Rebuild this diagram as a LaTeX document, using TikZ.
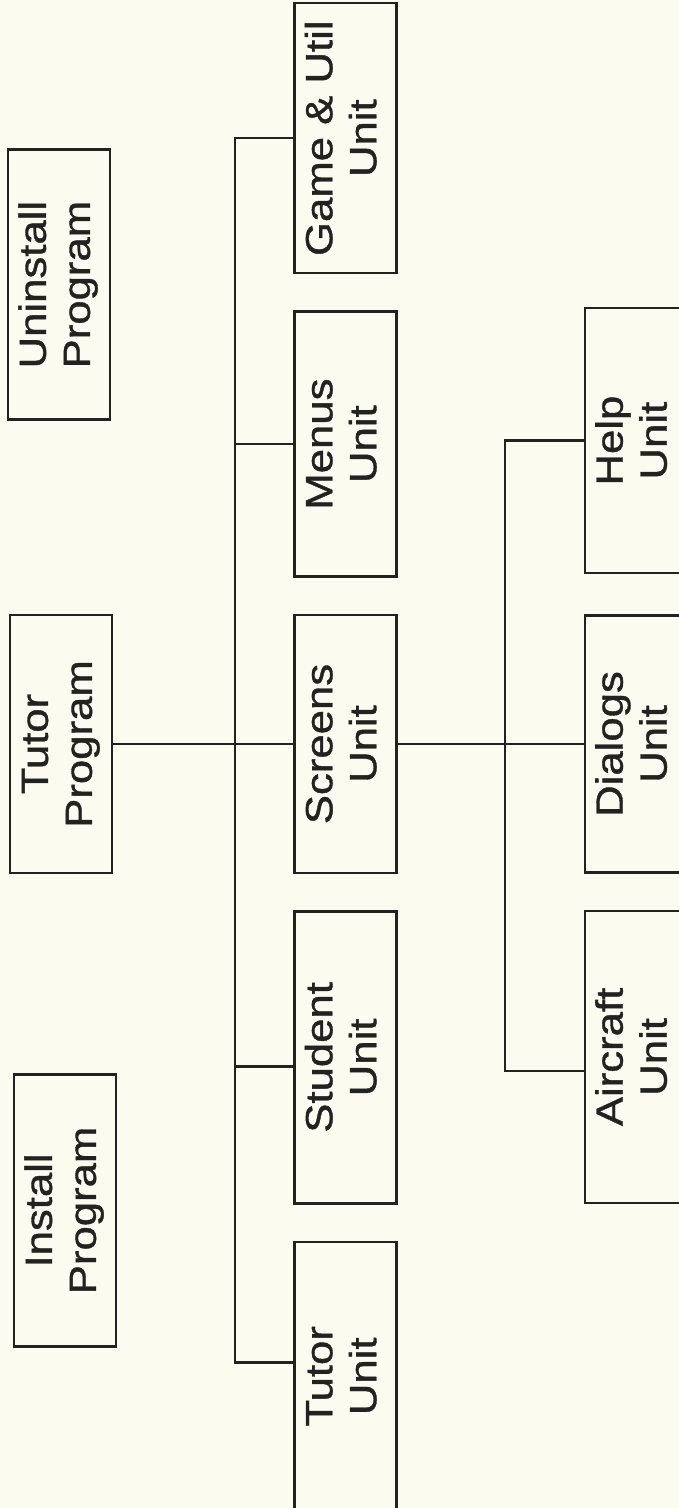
\documentclass[tikz,border=0pt]{standalone}
\usepackage{fontspec}
\setmainfont{Liberation Sans}
\newfontfamily\unitfont{Liberation Sans}[FakeBold=0.9]
\usepackage{graphicx}
\usetikzlibrary{positioning}
\definecolor{paper}{RGB}{251,251,240}
\definecolor{ink}{RGB}{34,34,34}
\newcommand{\vlabel}[1]{\rotatebox{90}{\scalebox{1.15}[1]{\begin{tabular}{@{}c@{}}#1\end{tabular}}}}

\begin{document}
\begin{tikzpicture}[
        x=1pt, y=1pt,
        node distance=36pt and 180pt,
        unit/.style={rectangle,draw=ink,line width=2.4pt,minimum width=102pt,inner sep=0pt,text=ink,font=\unitfont\fontsize{38}{44}\selectfont},
        link/.style={draw=ink,line width=2.4pt}
    ]
        \fill[paper] (0,0) rectangle (679,-1508);
        \useasboundingbox (0,0) rectangle (679,-1508);

        % first level
        \node[unit, minimum height=258pt] (screens) at (345.5,-744) {\vlabel{Screens\\Unit}};
        \node[unit, minimum height=265pt, above=of screens] (menus) {\vlabel{Menus\\Unit}};
        \node[unit, minimum height=270pt, above=of menus] (gameutil) {\vlabel{Game \& Util\\Unit}};
        \node[unit, minimum height=292pt, below=of screens] (student) {\vlabel{Student\\Unit}};
        \node[unit, minimum height=269pt, below=of student] (tutorunit) {\vlabel{Tutor\\Unit}};

        % programs
        \node[unit, minimum height=258pt, left=of screens] (tutorprog) {\vlabel{Tutor\\Program}};
        \node[unit, minimum height=270pt, above=193pt of tutorprog, xshift=-2pt] (uninstall) {\vlabel{Uninstall\\Program}};
        \node[unit, minimum height=272pt, below=199pt of tutorprog, xshift=4pt] (install) {\vlabel{Install\\Program}};

        % second level
        \node[unit, minimum height=257pt, right=186pt of screens] (dialogs) {\vlabel{Dialogs\\Unit}};
        \node[unit, minimum height=265pt, above=40pt of dialogs] (help) {\vlabel{Help\\Unit}};
        \node[unit, minimum height=292pt, below=of dialogs] (aircraft) {\vlabel{Aircraft\\Unit}};

        \coordinate (trunk) at (235,-744);
        \coordinate (subtrunk) at (505,-744);

        \draw[link] (tutorprog.east) -- (screens.west);
        \draw[link] (gameutil.west) -| (trunk) |- ([yshift=14pt]tutorunit.west);
        \draw[link] (menus.west) -- (menus.west -| trunk);
        \draw[link] ([yshift=-9pt]student.west) -- ([yshift=-9pt]student.west -| trunk);

        \draw[link] (screens.east) -- (dialogs.west);
        \draw[link] (help.west) -| (subtrunk) |- ([yshift=-14pt]aircraft.west);
    \end{tikzpicture}
\end{document}
